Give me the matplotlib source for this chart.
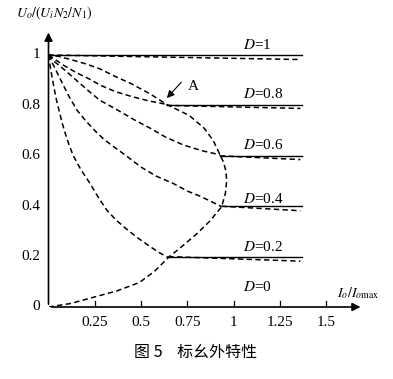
import matplotlib
matplotlib.use("Agg")
import matplotlib.pyplot as plt

plt.rcParams['font.family'] = ['Liberation Serif', 'DejaVu Serif']
plt.rcParams['mathtext.fontset'] = 'stix'

# Boundary (critical) curve
bound_I = [0, 0.12, 0.24, 0.37, 0.49, 0.57, 0.647, 0.72, 0.80, 0.87, 0.935, 0.955, 0.962,
           0.958, 0.945, 0.926, 0.89, 0.84, 0.76, 0.638, 0.55, 0.45, 0.36, 0.278, 0.2, 0.12, 0.05, 0]
bound_U = [0, 0.014, 0.038, 0.064, 0.097, 0.14, 0.196, 0.24, 0.29, 0.34, 0.398, 0.45, 0.50,
           0.54, 0.575, 0.604, 0.66, 0.71, 0.76, 0.804, 0.845, 0.885, 0.915, 0.945, 0.965, 0.982, 0.995, 1.0]

# Discontinuous-mode curves
dcm_08_I = [0, 0.03, 0.08, 0.15, 0.22, 0.28, 0.36, 0.45, 0.54, 0.638]
dcm_08_U = [1, 0.985, 0.96, 0.93, 0.905, 0.88, 0.855, 0.835, 0.818, 0.804]
dcm_06_I = [0, 0.03, 0.08, 0.15, 0.22, 0.278, 0.34, 0.4, 0.47, 0.548, 0.63, 0.728, 0.83, 0.926]
dcm_06_U = [1, 0.975, 0.945, 0.90, 0.855, 0.82, 0.795, 0.77, 0.74, 0.71, 0.675, 0.643, 0.62, 0.604]
dcm_04_I = [0, 0.015, 0.03, 0.05, 0.08, 0.115, 0.155, 0.2, 0.25, 0.3, 0.345, 0.42, 0.5, 0.58,
            0.674, 0.75, 0.818, 0.88, 0.935]
dcm_04_U = [1, 0.975, 0.955, 0.925, 0.88, 0.83, 0.78, 0.74, 0.70, 0.665, 0.64, 0.60, 0.555, 0.52,
            0.49, 0.46, 0.44, 0.418, 0.398]
dcm_02_I = [0, 0.007, 0.015, 0.025, 0.035, 0.045, 0.057, 0.072, 0.09, 0.11, 0.134, 0.175, 0.22,
            0.265, 0.314, 0.365, 0.42, 0.48, 0.548, 0.6, 0.647]
dcm_02_U = [1, 0.965, 0.93, 0.89, 0.85, 0.815, 0.78, 0.735, 0.69, 0.645, 0.60, 0.545, 0.495,
            0.44, 0.385, 0.345, 0.31, 0.275, 0.24, 0.215, 0.196]

# Continuous mode: ideal (solid) and real (dashed)
D_values = [1.0, 0.8, 0.6, 0.4, 0.2]
ccm_start_I = [0.0, 0.638, 0.926, 0.935, 0.647]
ccm_end_I = 1.37
real_end_I = 1.36
real_end_U = [0.982, 0.788, 0.585, 0.382, 0.182]
D_labels = ['D=1', 'D=0.8', 'D=0.6', 'D=0.4', 'D=0.2', 'D=0']
label_U = [1.04, 0.845, 0.643, 0.43, 0.238, 0.08]

xticks = [0.25, 0.5, 0.75, 1.0, 1.25, 1.5]
xtick_labels = ['0.25', '0.5', '0.75', '1', '1.25', '1.5']
yticks = [0, 0.2, 0.4, 0.6, 0.8, 1.0]
ytick_labels = ['0', '0.2', '0.4', '0.6', '0.8', '1']

W, H = 393, 379
fig = plt.figure(figsize=(W / 100, H / 100), dpi=100)
x0, y0 = 48.5, 307.0
sx, sy = 185.2, 252.0
xmax, ymax = 1.72, 1.12
ax = fig.add_axes([x0 / W, (H - y0) / H, xmax * sx / W, ymax * sy / H])
ax.set_xlim(0, xmax)
ax.set_ylim(0, ymax)
for s in ax.spines.values():
    s.set_visible(False)
ax.set_xticks([])
ax.set_yticks([])

dash = dict(color='black', lw=1.1, linestyle=(0, (3.5, 2.2)))
ax.plot(bound_I, bound_U, **dash)
for I, U in [(dcm_08_I, dcm_08_U), (dcm_06_I, dcm_06_U), (dcm_04_I, dcm_04_U), (dcm_02_I, dcm_02_U)]:
    ax.plot(I, U, **dash)

for D, s, e in zip(D_values, ccm_start_I, real_end_U):
    ax.plot([s, ccm_end_I], [D, D], color='black', lw=1.0)
    ax.plot([s, real_end_I], [D, e], **dash)

for t, u in zip(D_labels, label_U):
    d, rest = t.split('=')
    ax.text(1.05, u, r'$D$' + '=' + rest, fontsize=11, ha='left', va='center')

# axes with arrows
ax.annotate('', xy=(1.70, 0), xytext=(0, 0),
            arrowprops=dict(arrowstyle='-|>', color='black', lw=1.2, mutation_scale=12),
            annotation_clip=False)
ax.annotate('', xy=(0, 1.10), xytext=(0, 0),
            arrowprops=dict(arrowstyle='-|>', color='black', lw=1.2, mutation_scale=12),
            annotation_clip=False)

for x, l in zip(xticks, xtick_labels):
    ax.plot([x, x], [0, 0.022], color='black', lw=0.9)
    ax.text(x, -0.06, l, fontsize=11, ha='center', va='center')
for y, l in zip(yticks, ytick_labels):
    ax.text(-0.045, y, l, fontsize=11, ha='right', va='center')

ax.text(1.56, 0.055, r'$I_o/I_{o\mathrm{max}}$', fontsize=10, ha='left', va='center')
fig.text(54 / W, 1 - 13 / H, r'$U_o/(U_iN_2/N_1)$', fontsize=10, ha='center', va='center')

# point A
ax.annotate('', xy=(0.629, 0.821), xytext=(0.727, 0.90),
            arrowprops=dict(arrowstyle='-|>', color='black', lw=0.8, mutation_scale=11))
ax.text(0.75, 0.875, 'A', fontsize=11, ha='left', va='center')

fig.text(196 / W, 1 - 352 / H, '图 5    标幺外特性', fontsize=11.5, ha='center', va='center',
         family=['Noto Sans CJK SC', 'DejaVu Sans'])

fig.savefig('out.png', dpi=100)
